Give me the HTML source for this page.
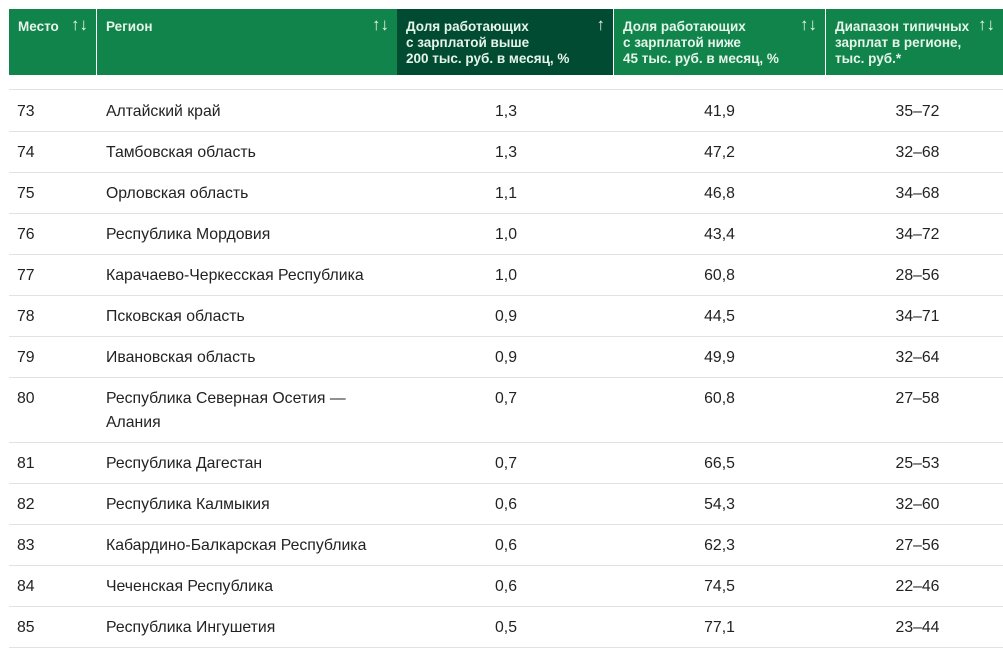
<!DOCTYPE html>
<html><head><meta charset="utf-8"><style>
body{margin:0;width:1003px;height:644px;overflow:hidden;background:#fff;font-family:"Liberation Sans",Arial,sans-serif;position:relative}
.h{position:absolute;top:9px;height:66px;background:#11844c;color:#e6f4ea;font-size:13.5px;font-weight:bold;line-height:16px;box-sizing:border-box;padding:10px 0 0 9px}
.h.a{background:#004b32}
.ar{position:absolute;right:8px;top:8px;font-weight:normal;font-size:17px}
.l{position:absolute;left:9px;width:994px;height:1px;background:#e2e2e2}
.t{position:absolute;font-size:15.8px;color:#222;line-height:24px}
</style></head><body>
<div class="h" style="left:9px;width:87px">Место<span class="ar">↑↓</span></div>
<div class="h" style="left:97px;width:300px">Регион<span class="ar">↑↓</span></div>
<div class="h a" style="left:397px;width:216px">Доля работающих<br>с зарплатой выше<br>200 тыс. руб. в месяц, %<span class="ar">↑</span></div>
<div class="h" style="left:614px;width:211px">Доля работающих<br>с зарплатой ниже<br>45 тыс. руб. в месяц, %<span class="ar">↑↓</span></div>
<div class="h" style="left:826px;width:177px">Диапазон типичных<br>зарплат в регионе,<br>тыс. руб.*<span class="ar">↑↓</span></div>
<div class="l" style="top:89px"></div>
<div id="rows"></div>
<script>
var d=[["73","Алтайский край","1,3","41,9","35–72"],["74","Тамбовская область","1,3","47,2","32–68"],["75","Орловская область","1,1","46,8","34–68"],["76","Республика Мордовия","1,0","43,4","34–72"],["77","Карачаево-Черкесская Республика","1,0","60,8","28–56"],["78","Псковская область","0,9","44,5","34–71"],["79","Ивановская область","0,9","49,9","32–64"],["80","Республика Северная Осетия —<br>Алания","0,7","60,8","27–58"],["81","Республика Дагестан","0,7","66,5","25–53"],["82","Республика Калмыкия","0,6","54,3","32–60"],["83","Кабардино-Балкарская Республика","0,6","62,3","27–56"],["84","Чеченская Республика","0,6","74,5","22–46"],["85","Республика Ингушетия","0,5","77,1","23–44"]];
var h="",y=90;
d.forEach(function(r){var hh=r[0]=="80"?65:41;var ty=y+10;
h+='<div class="t" style="left:17px;top:'+ty+'px">'+r[0]+'</div>';
h+='<div class="t" style="left:106px;top:'+ty+'px">'+r[1]+'</div>';
h+='<div class="t" style="left:397px;width:218px;text-align:center;top:'+ty+'px">'+r[2]+'</div>';
h+='<div class="t" style="left:614px;width:211px;text-align:center;top:'+ty+'px">'+r[3]+'</div>';
h+='<div class="t" style="left:830px;width:175px;text-align:center;top:'+ty+'px">'+r[4]+'</div>';
y+=hh;h+='<div class="l" style="top:'+y+'px"></div>';});
document.getElementById("rows").innerHTML=h;
</script>
</body></html>
